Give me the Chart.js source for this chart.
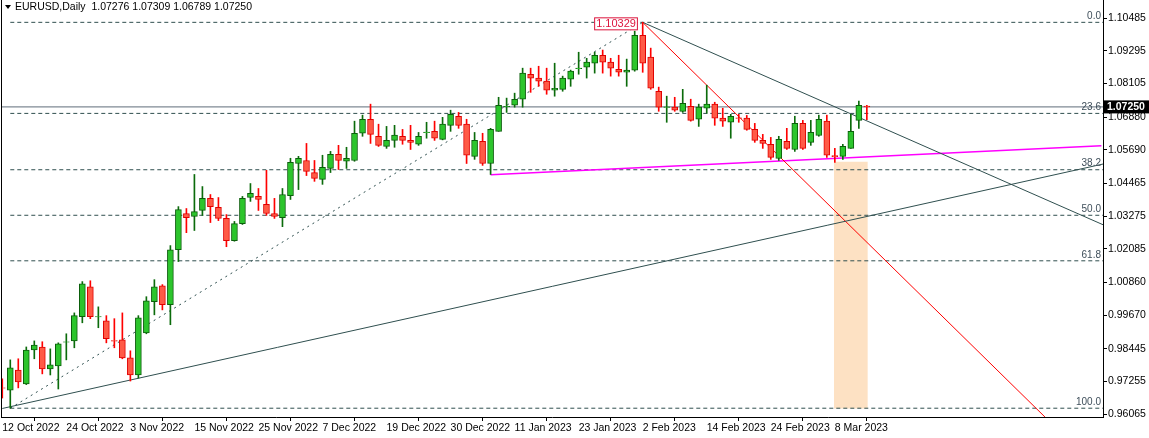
<!DOCTYPE html>
<html><head><meta charset="utf-8">
<script src="https://cdn.jsdelivr.net/npm/chart.js@4/dist/chart.umd.min.js"></script>
<style>html,body{margin:0;padding:0;background:#fff}#w{width:1149px;height:438px}</style>
</head><body><div id="w"><canvas id="c"></canvas></div>
<script>
const symbolTitle = "EURUSD,Daily  1.07276 1.07309 1.06789 1.07250";
const dateTicks = [[0,"12 Oct 2022"],[8,"24 Oct 2022"],[16,"3 Nov 2022"],[24,"15 Nov 2022"],[32,"25 Nov 2022"],[40,"7 Dec 2022"],[48,"19 Dec 2022"],[56,"30 Dec 2022"],[64,"11 Jan 2023"],[72,"23 Jan 2023"],[80,"2 Feb 2023"],[88,"14 Feb 2023"],[96,"24 Feb 2023"],[104,"8 Mar 2023"]];
const priceTicks = [1.10485,1.09295,1.08105,1.06880,1.05690,1.04465,1.03275,1.02085,1.00860,0.99670,0.98445,0.97255,0.96065];
const open = [
.9702,.9694,.9767,.9716,.9840,.9851,.9771,.9782,.9868,.9873,
.9961,1.0070,.9960,.9946,.9874,.9877,.9811,.9749,.9902,1.0016,
1.0074,1.0005,1.0205,1.0337,1.0326,1.0348,1.0392,1.0359,1.0319,1.0238,
1.0300,1.0395,1.0399,1.0370,1.0337,1.0322,1.0402,1.0519,1.0530,1.0486,
1.0461,1.0501,1.0552,1.0527,1.0530,1.0629,1.0680,1.0618,1.0581,1.0603,
1.0618,1.0603,1.0589,1.0631,1.0636,1.0607,1.0658,1.0691,1.0662,1.0545,
1.0600,1.0519,1.0636,1.0726,1.0731,1.0753,1.0844,1.0830,1.0819,1.0786,
1.0789,1.0826,1.0864,1.0870,1.0884,1.0913,1.0888,1.0862,1.0851,1.0859,
1.0986,1.0906,1.0782,1.0723,1.0724,1.0709,1.0727,1.0680,1.0720,1.0735,
1.0684,1.0669,1.0685,1.0684,1.0643,1.0603,1.0589,1.0537,1.0600,1.0570,
1.0665,1.0596,1.0621,1.0673,1.0548,1.0545,1.0574,1.0676,1.07276];
const high = [
.9735,.9804,.9808,.9851,.9873,.9870,.9844,.9866,.9899,.9975,
1.0089,1.0092,.9997,.9965,.9954,.9975,.9837,.9965,1.0034,1.0096,
1.0078,1.0220,1.0362,1.0355,1.0479,1.0435,1.0406,1.0395,1.0333,1.0308,
1.0399,1.0446,1.0428,1.0494,1.0392,1.0428,1.0538,1.0545,1.0592,1.0530,
1.0549,1.0563,1.0585,1.0578,1.0673,1.0695,1.0735,1.0662,1.0654,1.0658,
1.0643,1.0658,1.0632,1.0669,1.0673,1.0687,1.0713,1.0705,1.0680,1.0632,
1.0629,1.0647,1.0760,1.0757,1.0775,1.0866,1.0866,1.0873,1.0866,1.0884,
1.0837,1.0859,1.0924,1.0902,1.0924,1.0932,1.0902,1.0913,1.0899,1.1001,
1.10329,1.0939,1.0797,1.0764,1.0760,1.0789,1.0753,1.0735,1.0804,1.0742,
1.0720,1.0698,1.0698,1.0694,1.0665,1.0625,1.0614,1.0618,1.0647,1.0691,
1.0676,1.0676,1.0695,1.0695,1.0574,1.0589,1.0698,1.0746,1.07309];
const low = [
.9665,.9628,.9702,.9714,.9808,.9753,.9749,.9698,.9804,.9848,
.9939,.9954,.9921,.9866,.9848,.9808,.9727,.9738,.9899,.9968,
.9986,.9932,1.0162,1.0267,1.0275,1.0330,1.0304,1.0311,1.0216,1.0236,
1.0297,1.0381,1.0348,1.0330,1.0319,1.0289,1.0388,1.0424,1.0475,1.0454,
1.0443,1.0486,1.0497,1.0501,1.0527,1.0618,1.0592,1.0581,1.0574,1.0578,
1.0589,1.0570,1.0585,1.0611,1.0603,1.0605,1.0636,1.0647,1.0519,1.0534,
1.0512,1.0479,1.0636,1.0705,1.0724,1.0724,1.0778,1.0800,1.0771,1.0764,
1.0782,1.0800,1.0844,1.0830,1.0848,1.0848,1.0837,1.0837,1.0800,1.0855,
1.0851,1.0789,1.0709,1.0669,1.0709,1.0705,1.0673,1.0654,1.0702,1.0658,
1.0654,1.0611,1.0669,1.0640,1.0596,1.0574,1.0534,1.0530,1.0570,1.0563,
1.0570,1.0585,1.0618,1.0541,1.0523,1.0534,1.0574,1.0647,1.06789];
const close = [
.9701,.9775,.9724,.9840,.9858,.9771,.9786,.9862,.9870,.9965,
1.0081,.9961,.9962,.9881,.9872,.9811,.9749,.9957,1.0019,1.0070,
1.0005,1.0205,1.0351,1.0322,1.0344,1.0392,1.0362,1.0319,1.0238,1.0300,
1.0392,1.0410,1.0388,1.0337,1.0326,1.0406,1.0523,1.0538,1.0490,1.0465,
1.0505,1.0552,1.0530,1.0538,1.0629,1.0680,1.0625,1.0585,1.0603,1.0622,
1.0603,1.0596,1.0618,1.0633,1.0611,1.0662,1.0698,1.0658,1.0549,1.0603,
1.0519,1.0643,1.0731,1.0727,1.0753,1.0848,1.0830,1.0819,1.0786,1.0793,
1.0830,1.0855,1.0866,1.0888,1.0913,1.0888,1.0866,1.0851,1.0859,1.0986,
1.0884,1.0793,1.0724,1.0725,1.0713,1.0738,1.0676,1.0724,1.0735,1.0684,
1.0673,1.0691,1.0683,1.0643,1.0603,1.0592,1.0541,1.0607,1.0574,1.0665,
1.0574,1.0632,1.0680,1.0549,1.0544,1.0581,1.0636,1.0731,1.07250];
// drawn objects (bar index, price)
const fibLow = 0.9628, fibHigh = 1.10329, fibStart = 1;
const fibLevels = [0, 23.6, 38.2, 50.0, 61.8, 100.0];
const currentPrice = 1.07250;
const trendUp = [[0,0.9627],[137.5,1.0517]];
const trendDownGrey = [[80,1.10329],[137.5,1.0296]];
const trendDownRed = [[80,1.10329],[130.25,0.9596]];
const magentaLine = [[61,1.0478],[137.3,1.0584]];
const fibDiag = [[1,0.9628],[80,1.10329]];
const zoneBox = {x:106, from:0.9628, to:1.0524};
const XMAX = 137.5;

const gW=[],rW=[],gB=[],rB=[];
for(let i=0;i<open.length;i++){
  const up = close[i]>=open[i];
  let a=Math.min(open[i],close[i]), b=Math.max(open[i],close[i]);
  if(b-a<0.00012){const m=(a+b)/2;a=m-0.00006;b=m+0.00006;}
  (up?gW:rW).push({x:i,y:[low[i],high[i]]});
  (up?gB:rB).push({x:i,y:[a,b]});
}
const pts = a=>a.map(p=>({x:p[0],y:p[1]}));
const DK='#2f4f4f';
const ds=[];
ds.push({type:'bar',data:[{x:zoneBox.x,y:[zoneBox.from,zoneBox.to]}],backgroundColor:'#fde1c3',barThickness:33,grouped:false,order:20});
fibLevels.forEach(l=>{const p=fibHigh-(fibHigh-fibLow)*l/100;
  ds.push({type:'line',data:[{x:fibStart,y:p},{x:XMAX,y:p}],borderColor:DK,borderWidth:1,borderDash:[4,3],pointRadius:0,order:15});});
ds.push({type:'line',data:pts(fibDiag),borderColor:DK,borderWidth:1,borderDash:[2,4],pointRadius:0,order:15});
ds.push({type:'line',data:[{x:-1,y:currentPrice},{x:XMAX,y:currentPrice}],borderColor:'#7f8a94',borderWidth:1.3,pointRadius:0,order:14});
ds.push({type:'line',data:pts(magentaLine),borderColor:'#ff00ff',borderWidth:1.5,pointRadius:0,order:13});
ds.push({type:'line',data:pts(trendUp),borderColor:DK,borderWidth:1,pointRadius:0,order:12});
ds.push({type:'line',data:pts(trendDownGrey),borderColor:DK,borderWidth:1,pointRadius:0,order:12});
ds.push({type:'line',data:pts(trendDownRed),borderColor:'#ff0000',borderWidth:1,pointRadius:0,order:12});
ds.push({type:'bar',data:gW,backgroundColor:'#0b6b0b',barThickness:1,grouped:false,order:5});
ds.push({type:'bar',data:rW,backgroundColor:'#ff0000',barThickness:1,grouped:false,order:5});
ds.push({type:'bar',data:gB,backgroundColor:'#2cc52c',borderColor:'#0b5e0b',borderWidth:1,borderSkipped:false,barThickness:6,grouped:false,order:4});
ds.push({type:'bar',data:rB,backgroundColor:'#ff5a46',borderColor:'#e00000',borderWidth:1,borderSkipped:false,barThickness:6,grouped:false,order:4});

const FONT='"Liberation Sans", Arial, sans-serif';
const deco={id:'deco',afterDraw(ch){
  const c=ch.ctx,x=ch.scales.x,y=ch.scales.y,a=ch.chartArea;
  c.save();
  c.strokeStyle='#000';c.lineWidth=1;
  c.beginPath();c.moveTo(a.left+0.5,a.top);c.lineTo(a.left+0.5,a.bottom);c.stroke();
  c.fillStyle='#000';c.font='10.5px '+FONT;c.textBaseline='middle';c.textAlign='left';
  c.beginPath();c.moveTo(5,5);c.lineTo(11,5);c.lineTo(8,9);c.closePath();c.fill();
  c.fillText(symbolTitle,15,7);
  c.fillStyle='#3e4e5a';c.font='10px '+FONT;c.textAlign='right';c.textBaseline='bottom';
  fibLevels.forEach(l=>{const p=fibHigh-(fibHigh-fibLow)*l/100;c.fillText(l.toFixed(1),a.right-2,y.getPixelForValue(p)-1);});
  const hx=x.getPixelForValue(79.4), hy=y.getPixelForValue(fibHigh);
  c.font='11px '+FONT;const t=fibHigh.toFixed(5);const tw=c.measureText(t).width;
  c.fillStyle='#fff';c.fillRect(hx-tw-4,hy-5,tw+4,13);
  c.strokeStyle='#dc143c';c.strokeRect(hx-tw-4+0.5,hy-5+0.5,tw+3,12);
  c.fillStyle='#dc143c';c.textAlign='left';c.textBaseline='middle';c.fillText(t,hx-tw-2,hy+1.5);
  const cy=y.getPixelForValue(currentPrice);
  c.fillStyle='#000';c.fillRect(a.right+1,cy-6.5,45,13);
  c.fillStyle='#fff';c.font='bold 10.5px '+FONT;c.textAlign='left';c.fillText(currentPrice.toFixed(5),a.right+4,cy+0.5);
  c.restore();
}};

new Chart(document.getElementById('c'),{
  data:{datasets:ds},
  options:{responsive:true,maintainAspectRatio:false,animation:false,
    layout:{padding:{left:1,top:0,right:0,bottom:0}},
    plugins:{legend:{display:false},tooltip:{enabled:false}},
    scales:{
      x:{type:'linear',min:-0.16,max:XMAX,offset:false,
        afterBuildTicks:s=>{s.ticks=dateTicks.map(d=>({value:d[0]}));},
        afterFit:s=>{s.height=21;s.paddingLeft=0;s.paddingRight=0;},
        grid:{drawOnChartArea:false,color:'#000',tickLength:4},
        border:{color:'#000'},
        ticks:{autoSkip:false,maxRotation:0,align:'start',padding:1,color:'#000',font:{family:FONT,size:10.5},
          callback:v=>{const d=dateTicks.find(e=>e[0]===v);return d?d[1]:'';}}},
      y:{type:'linear',position:'right',min:0.9596,max:1.11142,
        afterBuildTicks:s=>{s.ticks=priceTicks.map(v=>({value:v}));},
        afterFit:s=>{s.width=46;s.paddingTop=0;s.paddingBottom=0;},
        grid:{drawOnChartArea:false,color:'#000',tickLength:4},
        border:{color:'#000'},
        ticks:{autoSkip:false,padding:1,color:'#000',font:{family:FONT,size:10.5},callback:v=>v.toFixed(5)}}
    }},
  plugins:[deco]
});
</script></body></html>
